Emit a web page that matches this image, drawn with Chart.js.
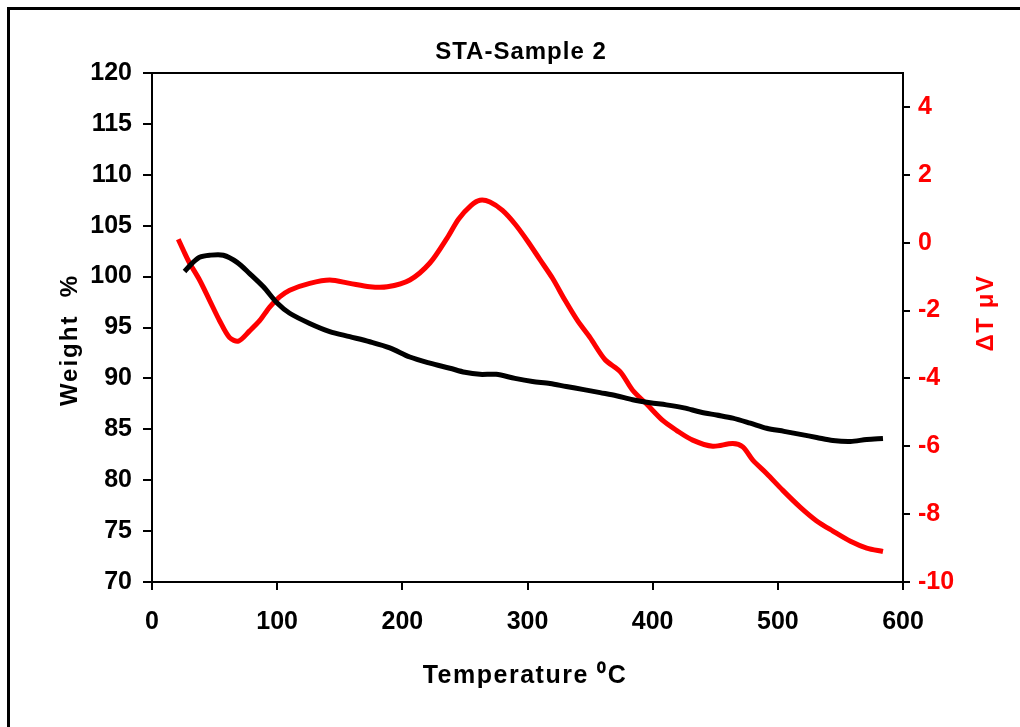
<!DOCTYPE html>
<html>
<head>
<meta charset="utf-8">
<script src="https://cdn.jsdelivr.net/npm/chart.js@4.4.1/dist/chart.umd.min.js"></script>
<style>
  html, body { margin: 0; padding: 0; background: #fff; }
</style>
</head>
<body>
<canvas id="sta" width="1020" height="727"></canvas>
<script>
// weight curve (left axis)
var weightTemp = [26, 32, 38, 46, 57, 68, 78, 89, 100, 110, 126, 142, 158, 174, 190, 206, 222, 238, 250, 262,
  275, 290, 304, 318, 331, 345, 358, 371, 384, 398, 411, 425, 438, 451, 464, 478, 491, 505, 518, 531,
  544, 558, 571, 584];
var weight = [100.5, 101.3, 101.9, 102.1, 102.1, 101.4, 100.3, 99.0, 97.4, 96.4, 95.4, 94.6, 94.1, 93.6, 93.0, 92.1, 91.5, 91.0, 90.6, 90.4,
  90.4, 90.0, 89.7, 89.5, 89.2, 88.9, 88.6, 88.3, 87.9, 87.6, 87.4, 87.1, 86.7, 86.4, 86.1, 85.6, 85.1, 84.8, 84.5, 84.2,
  83.9, 83.8, 84.0, 84.1];

// DTA curve (right axis)
var dtaTemp = [21, 26, 30, 38, 46, 54, 62, 69, 78, 86, 94, 102, 110, 126, 142, 158, 174, 188, 206, 222,
  236, 245, 255, 262, 270, 280, 290, 300, 310, 320, 330, 340, 350, 362, 374, 384, 395, 408, 419, 432,
  448, 464, 472, 480, 491, 504, 518, 531, 544, 558, 571, 584];
var dta = [0.1, -0.3, -0.6, -1.1, -1.7, -2.3, -2.8, -2.9, -2.6, -2.3, -1.9, -1.6, -1.4, -1.2, -1.1, -1.2, -1.3, -1.3, -1.1, -0.6,
  0.15, 0.7, 1.1, 1.25, 1.2, 0.95, 0.55, 0.05, -0.5, -1.05, -1.7, -2.3, -2.8, -3.45, -3.8, -4.35, -4.75, -5.24, -5.53, -5.82,
  -6.0, -5.92, -6.02, -6.41, -6.8, -7.3, -7.8, -8.2, -8.5, -8.8, -9.0, -9.1];

var chartTitle = "STA-Sample 2";
var xTitle = "Temperature \u2070C";
var yTitle = "Weight  %";
var y2Title = "\u0394T \u03bcV";

var fontFamily = "'Liberation Sans', Arial, sans-serif";
Chart.defaults.font.family = fontFamily;

function toPoints(xs, ys) {
  return xs.map(function (x, i) { return { x: x, y: ys[i] }; });
}

function drawText(ctx, text, x, y, size, color, rot, spacing) {
  ctx.save();
  ctx.translate(x, y);
  ctx.rotate(rot);
  ctx.font = "bold " + size + "px " + fontFamily;
  ctx.fillStyle = color;
  ctx.textAlign = "center";
  ctx.textBaseline = "middle";
  ctx.letterSpacing = spacing + "px";
  ctx.fillText(text, 0, 0);
  ctx.restore();
}

// outer frame, plot box and titles
var frameAndTitles = {
  id: "frameAndTitles",
  afterDraw: function (chart) {
    var ctx = chart.ctx;
    var a = chart.chartArea;
    ctx.save();
    ctx.strokeStyle = "#000";
    ctx.lineWidth = 3;
    ctx.strokeRect(8.5, 8.5, 1100, 800);
    ctx.lineWidth = 2;
    ctx.strokeRect(a.left, a.top, a.right - a.left, a.bottom - a.top);
    ctx.restore();

    drawText(ctx, chartTitle, 521, 52, 24, "#000", 0, 1);
    drawText(ctx, xTitle, 525, 676, 25, "#000", 0, 1.5);
    drawText(ctx, yTitle, 70, 340, 24, "#000", -Math.PI / 2, 2);
    drawText(ctx, y2Title, 986, 313, 24, "#ff0000", -Math.PI / 2, 1.5);
  }
};

var ctx = document.getElementById("sta");

var chart = new Chart(ctx, {
  type: "line",
  data: {
    datasets: [
      {
        label: yTitle,
        data: toPoints(weightTemp, weight),
        yAxisID: "y",
        borderColor: "#000",
        backgroundColor: "#000",
        borderWidth: 5,
        pointRadius: 0,
        tension: 0.3,
        fill: false
      },
      {
        label: y2Title,
        data: toPoints(dtaTemp, dta),
        yAxisID: "y2",
        borderColor: "#ff0000",
        backgroundColor: "#ff0000",
        borderWidth: 5,
        pointRadius: 0,
        tension: 0.3,
        fill: false
      }
    ]
  },
  options: {
    responsive: false,
    animation: false,
    layout: { padding: { top: 73, left: 0, right: 0, bottom: 0 } },
    plugins: {
      legend: { display: false },
      title: { display: false },
      tooltip: { enabled: false }
    },
    scales: {
      x: {
        type: "linear",
        position: "bottom",
        min: 0,
        max: 600,
        ticks: { stepSize: 100, color: "#000", font: { size: 25, weight: "bold" }, padding: 17, maxRotation: 0 },
        grid: { drawOnChartArea: false, drawTicks: true, tickLength: 8, color: "#000", lineWidth: 2 },
        border: { color: "#000", width: 2 },
        afterFit: function (s) { s.height = 145; }
      },
      y: {
        position: "left",
        min: 70,
        max: 120,
        ticks: { stepSize: 5, color: "#000", font: { size: 25, weight: "bold" }, padding: 11 },
        grid: { drawOnChartArea: false, drawTicks: true, tickLength: 9, color: "#000", lineWidth: 2 },
        border: { color: "#000", width: 2 },
        afterFit: function (s) { s.width = 152; }
      },
      y2: {
        position: "right",
        min: -10,
        max: 5,
        ticks: { stepSize: 2, includeBounds: false, color: "#ff0000", font: { size: 25, weight: "bold" }, padding: 8 },
        grid: { drawOnChartArea: false, drawTicks: true, tickLength: 7, color: "#000", lineWidth: 2 },
        border: { color: "#000", width: 2 },
        afterFit: function (s) { s.width = 117; }
      }
    }
  },
  plugins: [frameAndTitles]
});
</script>
</body>
</html>
